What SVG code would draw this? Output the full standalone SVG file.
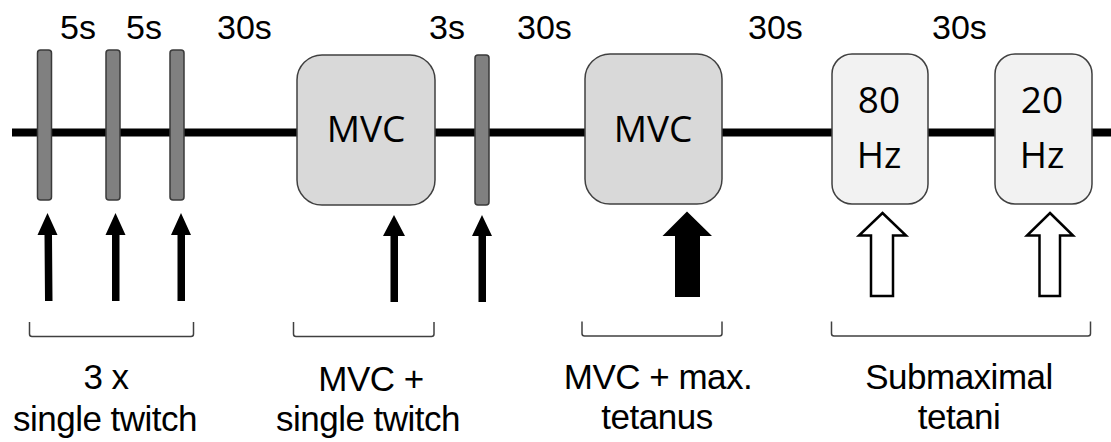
<svg xmlns="http://www.w3.org/2000/svg" width="1111" height="442" viewBox="0 0 1111 442">
<style>
.bar{fill:#808080;stroke:#3a3a3a;stroke-width:1.5}
.box1{fill:#d9d9d9;stroke:#404040;stroke-width:1.5}
.box2{fill:#f2f2f2;stroke:#404040;stroke-width:1.5}
.bt{font-family:"Open Sans","Liberation Sans",sans-serif;font-size:37px;fill:#000;text-anchor:middle}
.top{font-family:"Liberation Sans",Arial,sans-serif;font-size:34px;fill:#000}
.lab{font-family:"Liberation Sans",Arial,sans-serif;font-size:35px;fill:#000;text-anchor:middle;letter-spacing:-0.5px}
.br{fill:none;stroke:#404040;stroke-width:1.5}
.arr{fill:#000}
.harr{fill:#fff;stroke:#000;stroke-width:2.5;stroke-linejoin:miter}
</style>
<rect width="1111" height="442" fill="#fff"/>
<g id="connectors">
<line x1="12" y1="132.5" x2="1111" y2="132.5" stroke="#000" stroke-width="8"/>
</g>
<g id="top-labels">
<text class="top" x="60" y="39">5s</text>
<text class="top" x="126" y="39">5s</text>
<text class="top" x="217" y="39">30s</text>
<text class="top" x="429" y="39">3s</text>
<text class="top" x="517" y="39">30s</text>
<text class="top" x="748" y="39">30s</text>
<text class="top" x="932" y="39">30s</text>
</g>
<g id="twitch1"><rect class="bar" x="37.5" y="50" width="14" height="150" rx="3"/></g>
<g id="twitch2"><rect class="bar" x="106" y="50" width="14" height="150" rx="3"/></g>
<g id="twitch3"><rect class="bar" x="170" y="50" width="14" height="150" rx="3"/></g>
<g id="twitch4"><rect class="bar" x="475" y="55" width="14" height="150" rx="3"/></g>
<g id="mvc1"><rect class="box1" x="297" y="55" width="138" height="150" rx="25"/><text class="bt" x="366" y="142">MVC</text></g>
<g id="mvc2"><rect class="box1" x="585" y="54" width="137" height="150" rx="25"/><text class="bt" x="653" y="142">MVC</text></g>
<g id="hz80"><rect class="box2" x="832" y="54" width="96" height="150" rx="20"/><text class="bt" x="879" y="113">80</text><text class="bt" x="879" y="168">Hz</text></g>
<g id="hz20"><rect class="box2" x="995" y="54" width="97" height="150" rx="20"/><text class="bt" x="1042" y="113">20</text><text class="bt" x="1042" y="168">Hz</text></g>
<g id="arrows">
<path class="arr" d="M47.5 213 L57.5 235 L52 235 L52.5 301 L45 301 L44.5 235 L37.5 235 Z"/>
<path class="arr" d="M115.5 213 L125.5 235 L119.5 235 L119.5 301 L112 301 L112 235 L105.5 235 Z"/>
<path class="arr" d="M181 213 L191 235 L185 235 L185 301 L177.5 301 L177.5 235 L171 235 Z"/>
<path class="arr" d="M394 215 L405 236 L398 236 L398 302 L390.5 302 L390.5 236 L383 236 Z"/>
<path class="arr" d="M482 215 L492 236 L486 236 L486 302 L478.5 302 L478.5 236 L472 236 Z"/>
<path class="arr" d="M687 211.5 L712 236 L700 236 L700 297 L675 297 L675 236 L662.5 236 Z"/>
<path class="harr" d="M882.5 213 L906 235.5 L893 235.5 L893 296 L871 296 L871 235.5 L859 235.5 Z"/>
<path class="harr" d="M1050 213 L1073 235.5 L1060 235.5 L1060 296 L1039.5 296 L1039.5 235.5 L1027 235.5 Z"/>
</g>
<g id="brackets">
<path class="br" d="M29.5 322 V334 Q29.5 336.5 32 336.5 H191 Q193.5 336.5 193.5 334 V322"/>
<path class="br" d="M293.5 322 V334 Q293.5 336.5 296 336.5 H431.5 Q434 336.5 434 334 V322"/>
<path class="br" d="M582 321.5 V333.5 Q582 336 584.5 336 H719.5 Q722 336 722 333.5 V321.5"/>
<path class="br" d="M831.5 321.5 V333.5 Q831.5 336 834 336 H1088 Q1090.5 336 1090.5 333.5 V321.5"/>
</g>
<g id="bottom-labels">
<text class="lab" x="106" y="389">3 x</text>
<text class="lab" x="105" y="431">single twitch</text>
<text class="lab" x="371" y="391">MVC +</text>
<text class="lab" x="368" y="431">single twitch</text>
<text class="lab" x="658" y="389">MVC + max.</text>
<text class="lab" x="657" y="429">tetanus</text>
<text class="lab" x="959" y="389">Submaximal</text>
<text class="lab" x="959" y="429">tetani</text>
</g>
</svg>
